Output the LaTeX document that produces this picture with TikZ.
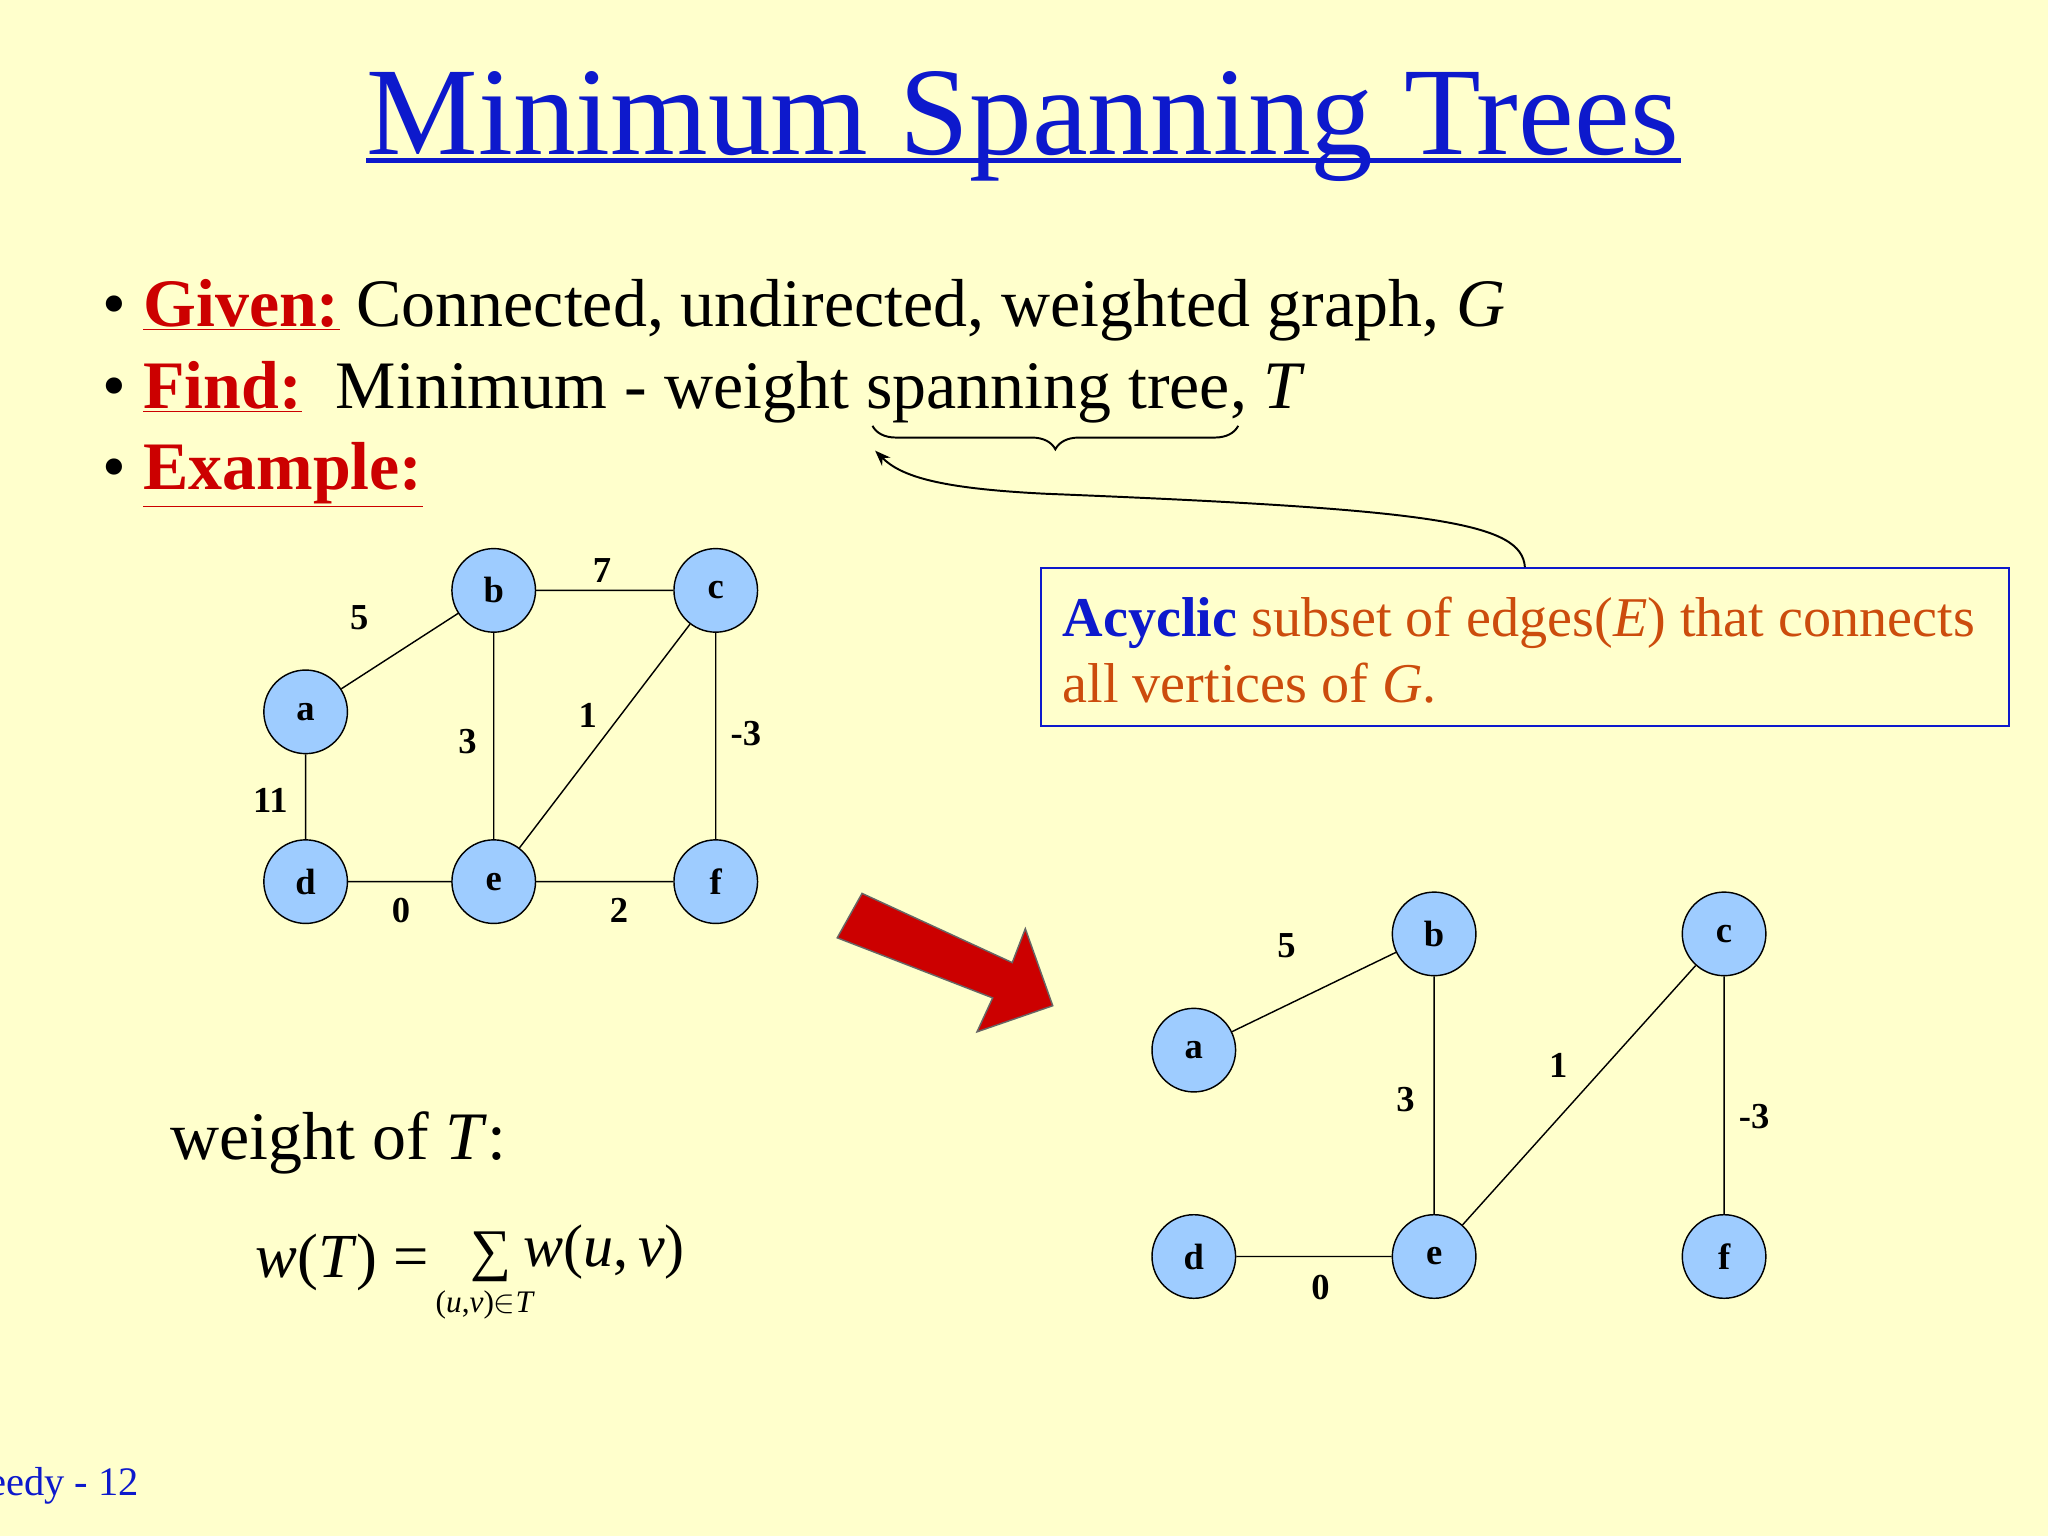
\documentclass[tikz,border=0pt]{standalone}
\usepackage{fontspec}
\setmainfont{Liberation Serif}
\usetikzlibrary{decorations.pathreplacing,arrows.meta}
\definecolor{bg}{rgb}{1,1,0.8}
\definecolor{ttl}{rgb}{0.05,0.1,0.8}
\definecolor{lbl}{rgb}{0.8,0,0}
\definecolor{orn}{rgb}{0.8,0.3,0.05}
\definecolor{nodef}{rgb}{0.62,0.8,1}
\newcommand{\fs}[1]{\fontsize{#1}{#1}\selectfont}
\begin{document}
\begin{tikzpicture}[x=1pt,y=-1pt,line width=1.1pt,
  vtx/.style={circle,draw,fill=nodef,minimum size=64pt,inner sep=0pt,font=\fs{28}\bfseries},
  wl/.style={font=\fs{28}\bfseries,inner sep=0pt},
  txt/.style={anchor=base west,inner sep=0pt,font=\fs{52}}]
\fill[bg] (0,0) rectangle (1568,1176);
\useasboundingbox (0,0) rectangle (1568,1176);
\node[anchor=base,inner sep=0pt,text=ttl,font=\fs{96}] (title) at (783,118) {Minimum Spanning Trees};
\fill[ttl] (280,121) rectangle (1287,125);
\node[txt] (l1) at (78,250) {\textbullet\ {\color{lbl}\textbf{\underline{Given:}}} Connected, undirected, weighted graph, \textit{G}};
\node[txt] (l2) at (78,313) {\textbullet\ {\color{lbl}\textbf{\underline{Find:}}}\ \ Minimum - weight spanning tree, \textit{T}};
\node[txt] (l3) at (78,375) {\textbullet\ {\color{lbl}\textbf{\underline{Example:}}}};
\coordinate (br1) at (668,326); \coordinate (br2) at (948,326);
\draw[decorate,decoration={brace,mirror,amplitude=18pt},line width=1.5pt] (br1) -- (br2);
\node[draw=ttl,line width=1.5pt,minimum width=741pt,minimum height=121pt,inner sep=0pt] (box) at (1167.5,495.5) {};
\node[anchor=base west,inner sep=0pt,font=\fs{43},text=orn] (bt1) at (813,487) {{\color{ttl}\textbf{Acyclic}} subset of edges(\textit{E}) that connects};
\node[anchor=base west,inner sep=0pt,font=\fs{43},text=orn] (bt2) at (813,538) {all vertices of \textit{G}.};
\coordinate (at) at (670,345);
\draw[-{Stealth[length=12pt]},line width=1.5pt] (box.north) .. controls (1165,400) and (1100,390) .. (800,378) .. controls (720,374) and (690,365) .. (at);
% graph 1
\node[vtx] (a) at (234,545) {a};
\node[vtx] (b) at (378,452) {b};
\node[vtx] (c) at (548,452) {c};
\node[vtx] (d) at (234,675) {d};
\node[vtx] (e) at (378,675) {e};
\node[vtx] (f) at (548,675) {f};
\draw (a)--(b) (b)--(c) (b)--(e) (e)--(c) (c)--(f) (a)--(d) (d)--(e) (e)--(f);
\node[wl] at (275,473) {5}; \node[wl] at (461,437) {7}; \node[wl] at (358,568) {3};
\node[wl] at (450,548) {1}; \node[wl] at (571,562) {-3}; \node[wl] at (207,613) {11};
\node[wl] at (307,697) {0}; \node[wl] at (474,697) {2};
% graph 2
\node[vtx] (a2) at (914,804) {a};
\node[vtx] (b2) at (1098,715) {b};
\node[vtx] (c2) at (1320,715) {c};
\node[vtx] (d2) at (914,962) {d};
\node[vtx] (e2) at (1098,962) {e};
\node[vtx] (f2) at (1320,962) {f};
\draw (a2)--(b2) (b2)--(e2) (e2)--(c2) (c2)--(f2) (d2)--(e2);
\node[wl] at (985,724) {5}; \node[wl] at (1076,842) {3}; \node[wl] at (1193,816) {1};
\node[wl] at (1343,855) {-3}; \node[wl] at (1011,986) {0};
% red arrow
\fill[lbl,draw=black!60] (641,718) -- (660,684) -- (775,737) -- (785,711) -- (806,770) -- (748,790) -- (760,764) -- cycle;
% weight
\node[txt] (wt) at (130,888) {weight of \textit{T}:};
\node[anchor=base west,inner sep=0pt,font=\fs{48}] (wf) at (195,978) {\textit{w}(\textit{T}) = };
\node[anchor=base west,inner sep=0pt,font=\fs{44}] (sg) at (360,972) {∑};
\node[anchor=base west,inner sep=0pt,font=\fs{46}] (wv) at (400,970) {\textit{w}(\textit{u},\,\textit{v})};
\node[anchor=base west,inner sep=0pt,font=\fs{24}] (ws) at (333,1005) {(\textit{u},\textit{v})$\in$\textit{T}};
\node[anchor=base east,inner sep=0pt,font=\fs{31},text=ttl] (pg) at (107,1145) {Greedy - 12};
\end{tikzpicture}
\end{document}
